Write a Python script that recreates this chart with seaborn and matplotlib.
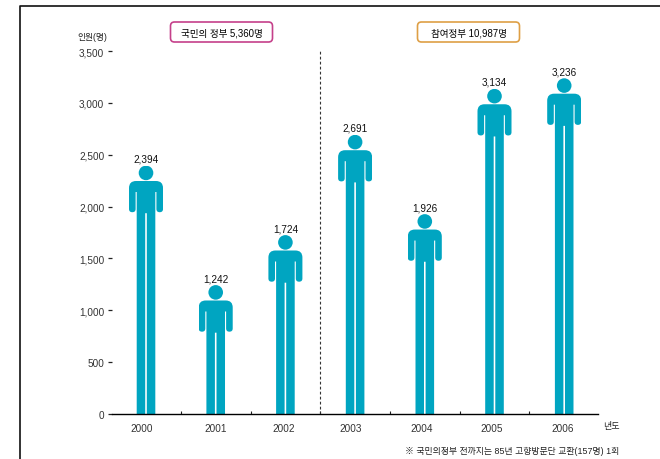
import matplotlib
matplotlib.use("Agg")
import matplotlib.pyplot as plt
import seaborn as sns
import pandas as pd
from matplotlib.lines import Line2D
from matplotlib.patches import FancyBboxPatch
from matplotlib.path import Path
from matplotlib.transforms import Affine2D, ScaledTranslation
from matplotlib.ticker import FixedLocator, FuncFormatter

years = ["2000", "2001", "2002", "2003", "2004", "2005", "2006"]
visitors = [2394, 1242, 1724, 2691, 1926, 3134, 3236]
y_ticks = [0, 500, 1000, 1500, 2000, 2500, 3000, 3500]
era_labels = ["국민의 정부 5,360명", "참여정부 10,987명"]
y_title = "인원(명)"
x_title = "년도"
footnote = "※ 국민의정부 전까지는 85년 고향방문단 교환(157명) 1회"

TEAL = "#00A5C1"
W, H = 660, 460
sns.set_theme(style="white")
plt.rcParams["font.family"] = ["Liberation Sans", "Noto Sans CJK KR", "DejaVu Sans"]

fig = plt.figure(figsize=(W / 100, H / 100), dpi=100, facecolor="white")
ax = fig.add_axes([112 / W, (H - 415) / H, 486 / W, 363 / H])
ax.set_facecolor("none")

frame = pd.DataFrame({"year": years, "visitors": visitors})
sns.barplot(data=frame, x="year", y="visitors", color=TEAL, saturation=1,
            width=34.4 / 69.7, ax=ax, linewidth=0)
ax.set_xlim(-0.488, 6.485)
ax.set_ylim(0, 3500)
ax.set_xlabel("")
ax.set_ylabel("")


def person_path(height_px):
    """Pictogram in pixels, origin at the top centre of the head, y pointing down."""
    head = Path.circle((0, 7.2), 7.3)
    sh, arm_end, half = 15.3, 46.5, 17.0
    k = 7.0
    inner = half - 6.6
    pit = sh + 11
    end = arm_end - 3.2
    body = Path(
        [
            (-half + k, sh), (half - k, sh), (half, sh), (half, sh + k),
            (half, end), (half, arm_end), (half - 3.3, arm_end),
            (inner, arm_end), (inner, end),
            (inner, pit), (9.3, pit), (9.3, height_px),
            (0.8, height_px), (0.8, arm_end + 1), (-0.8, arm_end + 1),
            (-0.8, height_px), (-9.3, height_px), (-9.3, pit),
            (-inner, pit), (-inner, end),
            (-inner, arm_end), (-half + 3.3, arm_end), (-half, arm_end),
            (-half, end), (-half, sh + k), (-half, sh), (-half + k, sh),
        ],
        [
            Path.MOVETO, Path.LINETO, Path.CURVE3, Path.CURVE3,
            Path.LINETO, Path.CURVE3, Path.CURVE3, Path.CURVE3, Path.CURVE3,
            Path.LINETO, Path.LINETO, Path.LINETO,
            Path.LINETO, Path.LINETO, Path.LINETO,
            Path.LINETO, Path.LINETO, Path.LINETO,
            Path.LINETO, Path.LINETO,
            Path.CURVE3, Path.CURVE3, Path.CURVE3, Path.CURVE3,
            Path.LINETO, Path.CURVE3, Path.CURVE3,
        ],
    )
    return Path.make_compound_path(head, body)


# Each bar keeps its value-driven height and is clipped to a standing figure.
container = ax.containers[0]
x_per_px = (ax.get_xlim()[1] - ax.get_xlim()[0]) / 486
y_per_px = 3500 / 363
for bar in container:
    top = bar.get_height()
    centre = bar.get_x() + bar.get_width() / 2
    to_data = Affine2D().scale(x_per_px, -y_per_px).translate(centre, top)
    bar.set_clip_path(person_path(top / y_per_px), to_data + ax.transData)

ax.bar_label(container, labels=[f"{v:,}" for v in visitors], padding=1.5,
             fontsize=7.2, color="#111111")

# Axes: only a baseline, short marks on the value scale, separators between years.
for side in ("left", "right", "top"):
    ax.spines[side].set_visible(False)
ax.spines["bottom"].set_color("black")
ax.spines["bottom"].set_linewidth(1.0)
ax.yaxis.set_major_locator(FixedLocator(y_ticks))
ax.yaxis.set_major_formatter(FuncFormatter(lambda v, _: f"{int(v):,}"))
ax.tick_params(axis="y", left=True, length=2.6, width=0.9, pad=3.0, labelsize=7.2,
               color="#222222", labelcolor="#333333")
ax.tick_params(axis="x", bottom=False, pad=0.6, labelsize=7.2, labelcolor="#333333")
ax.set_xticks([i + 0.5 for i in range(6)], minor=True)
ax.tick_params(axis="x", which="minor", bottom=True, direction="in", length=2.5,
               width=0.8, color="#222222")

label_nudge_px = [-4, 0, -2, -4, -3, -3, -2]
for label, nudge in zip(ax.get_xticklabels(), label_nudge_px):
    label.set_transform(label.get_transform()
                        + ScaledTranslation(nudge / 100, 0, fig.dpi_scale_trans))

# Boundary between the two administrations.
ax.axvline(2.5, color="#333333", lw=0.8, ls=(0, (2.5, 2)), zorder=1)

px = Affine2D().scale(1 / W, -1 / H).translate(0, 1) + fig.transFigure

# Outer rule along the top and left edges.
fig.add_artist(Line2D([20, 20, W], [H, 7, 7], transform=px, color="#111111", lw=1.2))

for (x0, edge), text in zip([(170.5, "#C5408A"), (417.5, "#DE9F45")], era_labels):
    fig.add_artist(FancyBboxPatch((x0 + 3, 26), 96, 14, transform=px,
                                  boxstyle="round,pad=3,rounding_size=4",
                                  fc="white", ec=edge, lw=1.2))
    fig.text(x0 + 51, 33, text, transform=px, ha="center", va="center",
             fontsize=6.9, color="#000000")

fig.text(92, 38, y_title, transform=px, ha="center", va="center", fontsize=6.3, color="#222222")
fig.text(611, 427, x_title, transform=px, ha="center", va="center", fontsize=6.5, color="#222222")
fig.text(619, 451, footnote, transform=px, ha="right", va="center", fontsize=6.4, color="#222222")

fig.savefig("out.png", dpi=100)
